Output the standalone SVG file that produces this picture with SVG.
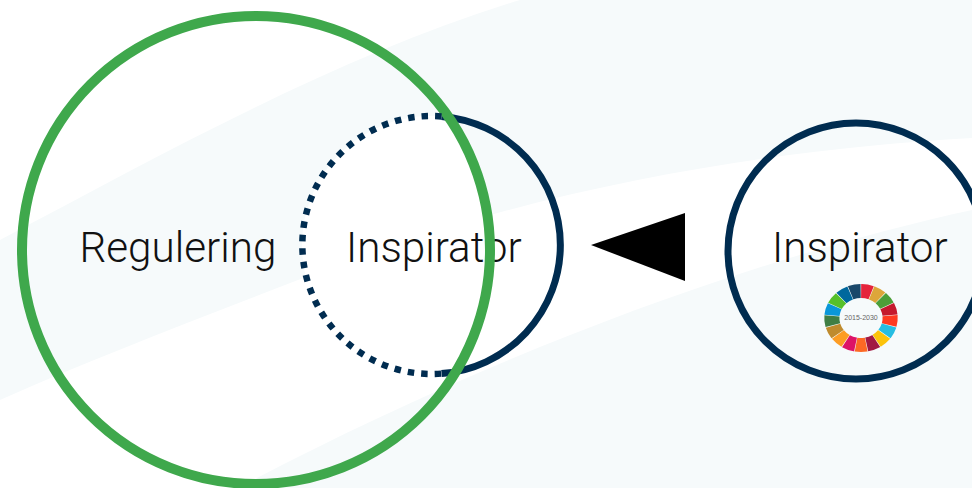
<svg xmlns="http://www.w3.org/2000/svg" width="972" height="488" viewBox="0 0 972 488">
<style>
.t{font-family:Roboto,"Liberation Sans",sans-serif;font-weight:300;font-size:42.200px;fill:#111}
.n{fill:none;stroke:#002c50;stroke-width:7}
.s{fill:none;stroke-width:14;stroke-dasharray:.92 16.08}
</style>
<defs><clipPath id="g"><circle cx="256" cy="250" r="234"/></clipPath></defs>
<rect width="972" height="488" fill="#fff"/>
<g id="background" fill="#f6fafb">
<path d="M520 0H972V138C760 150 520 190 298 280C190 322 90 360 0 400V240C170 150 340 55 520 0Z"/>
<path d="M238 488C450 375 720 265 972 210V488Z"/>
</g>
<g id="node-inspirator-left">
<circle cx="431" cy="245" r="129" fill="#fff" clip-path="url(#g)"/>
<path class="n" d="M441.500 116.400A129 129 0 0 1 441.500 373.600"/>
<text class="t" x="346" y="262">Inspirator</text>
</g>
<g id="connectors"><polygon points="591,245 685,213 685,281" fill="#000"/></g>
<g id="node-inspirator-right">
<circle class="n" cx="856" cy="251" r="128"/>
<text class="t" x="772" y="262">Inspirator</text>
<g id="sdg-wheel" transform="translate(861 318) scale(1.08 1)">
<circle class="s" r="27" pathLength="17" stroke="#e5243b" transform="rotate(-89)"/>
<circle class="s" r="27" pathLength="17" stroke="#dda63a" transform="rotate(-67.800)"/>
<circle class="s" r="27" pathLength="17" stroke="#4c9f38" transform="rotate(-46.600)"/>
<circle class="s" r="27" pathLength="17" stroke="#c5192d" transform="rotate(-25.500)"/>
<circle class="s" r="27" pathLength="17" stroke="#ff3a21" transform="rotate(-4.300)"/>
<circle class="s" r="27" pathLength="17" stroke="#26bde2" transform="rotate(16.900)"/>
<circle class="s" r="27" pathLength="17" stroke="#fcc30b" transform="rotate(38.100)"/>
<circle class="s" r="27" pathLength="17" stroke="#a21942" transform="rotate(59.300)"/>
<circle class="s" r="27" pathLength="17" stroke="#fd6925" transform="rotate(80.400)"/>
<circle class="s" r="27" pathLength="17" stroke="#dd1367" transform="rotate(101.600)"/>
<circle class="s" r="27" pathLength="17" stroke="#fd9d24" transform="rotate(122.800)"/>
<circle class="s" r="27" pathLength="17" stroke="#bf8b2e" transform="rotate(144)"/>
<circle class="s" r="27" pathLength="17" stroke="#3f7e44" transform="rotate(165.200)"/>
<circle class="s" r="27" pathLength="17" stroke="#0a97d9" transform="rotate(186.300)"/>
<circle class="s" r="27" pathLength="17" stroke="#56c02b" transform="rotate(207.500)"/>
<circle class="s" r="27" pathLength="17" stroke="#00689d" transform="rotate(228.700)"/>
<circle class="s" r="27" pathLength="17" stroke="#19486a" transform="rotate(249.900)"/>
<text y="2" text-anchor="middle" font-family="Liberation Sans,sans-serif" font-size="6.500" fill="#666">2015-2030</text>
</g>
</g>
<g id="node-regulering">
<text class="t" x="79.500" y="262">Regulering</text>
<circle cx="256" cy="250" r="234" fill="none" stroke="#3fa84c" stroke-width="10"/>
</g>
<g id="dotted-overlap">
<path fill="none" stroke="#002c50" stroke-width="6.500" stroke-dasharray="6.500 7" d="M441.500 116.400A129 129 0 1 0 441.500 373.600" clip-path="url(#g)"/>
</g>
</svg>
